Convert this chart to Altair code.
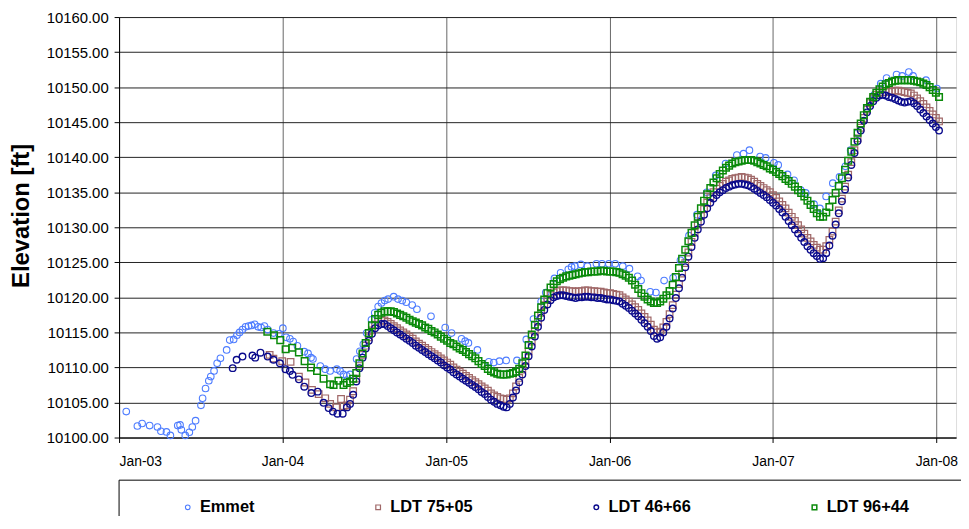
import altair as alt
import pandas as pd

SERIES = ["Emmet", "LDT 75+05", "LDT 46+66", "LDT 96+44"]
COLORS = ["#4d7cff", "#a06868", "#0a0a8c", "#0a8a0a"]
SHAPES = ["circle", "square", "circle", "square"]
YEAR_TICKS = [2003, 2004, 2005, 2006, 2007, 2008]
Y_TICKS = [10100, 10105, 10110, 10115, 10120, 10125, 10130, 10135, 10140, 10145, 10150, 10155, 10160]

# (decimal year, elevation)
EMMET = [
    (2003.044, 10103.7), (2003.112, 10101.65), (2003.141, 10102.0), (2003.187, 10101.7),
    (2003.235, 10101.5), (2003.256, 10100.9), (2003.290, 10100.8), (2003.314, 10100.3),
    (2003.359, 10101.7), (2003.373, 10101.8), (2003.381, 10101.1), (2003.405, 10100.3),
    (2003.430, 10100.75), (2003.448, 10101.5), (2003.468, 10102.4), (2003.501, 10104.6),
    (2003.511, 10105.6), (2003.529, 10107.0), (2003.549, 10108.1), (2003.561, 10108.7),
    (2003.581, 10109.5), (2003.600, 10110.6), (2003.620, 10111.3), (2003.658, 10112.5),
    (2003.677, 10113.9), (2003.701, 10114.0), (2003.721, 10114.6), (2003.737, 10115.0),
    (2003.755, 10115.4), (2003.774, 10115.8), (2003.792, 10115.9), (2003.810, 10116.0),
    (2003.830, 10116.15), (2003.851, 10115.8), (2003.869, 10115.7), (2003.889, 10115.9),
    (2003.909, 10115.4), (2003.945, 10114.9), (2003.978, 10114.8), (2004.002, 10115.6),
    (2004.022, 10114.3), (2004.045, 10114.1), (2004.065, 10113.7), (2004.091, 10113.1),
    (2004.133, 10112.25), (2004.156, 10112.0), (2004.174, 10111.4), (2004.186, 10111.2),
    (2004.231, 10110.2), (2004.261, 10109.75), (2004.291, 10109.5), (2004.332, 10109.75),
    (2004.352, 10109.5), (2004.373, 10109.0), (2004.393, 10108.8), (2004.413, 10109.0),
    (2004.453, 10111.2), (2004.473, 10112.3), (2004.494, 10113.3), (2004.514, 10114.9),
    (2004.544, 10116.8), (2004.564, 10117.8), (2004.585, 10118.7), (2004.605, 10119.2),
    (2004.625, 10119.55), (2004.646, 10119.75), (2004.680, 10120.1), (2004.706, 10119.75),
    (2004.732, 10119.55), (2004.757, 10119.3), (2004.793, 10118.9), (2004.822, 10118.3),
    (2004.908, 10117.3), (2004.995, 10115.7), (2005.034, 10114.9), (2005.095, 10114.1),
    (2005.117, 10113.75), (2005.137, 10113.5), (2005.192, 10112.5), (2005.262, 10110.8),
    (2005.292, 10110.7), (2005.327, 10110.9), (2005.368, 10111.0), (2005.434, 10111.0),
    (2005.491, 10114.0), (2005.535, 10116.9), (2005.582, 10119.4), (2005.610, 10120.7),
    (2005.663, 10122.7), (2005.701, 10123.5), (2005.748, 10124.0), (2005.768, 10124.35),
    (2005.788, 10124.45), (2005.825, 10124.7), (2005.865, 10124.45), (2005.920, 10124.8),
    (2005.954, 10124.8), (2005.996, 10124.8), (2006.035, 10124.8), (2006.081, 10124.45),
    (2006.122, 10124.1), (2006.172, 10123.0), (2006.193, 10122.4), (2006.249, 10120.8),
    (2006.284, 10120.7), (2006.334, 10122.4), (2006.389, 10122.8), (2006.434, 10125.3),
    (2006.486, 10128.8), (2006.535, 10131.8), (2006.595, 10135.0), (2006.650, 10137.4),
    (2006.710, 10139.1), (2006.779, 10140.3), (2006.820, 10140.5), (2006.856, 10141.0),
    (2006.921, 10140.1), (2006.955, 10139.9), (2007.006, 10139.2), (2007.032, 10138.9),
    (2007.089, 10137.55), (2007.129, 10136.7), (2007.170, 10135.3), (2007.200, 10134.9),
    (2007.251, 10133.3), (2007.287, 10132.7), (2007.325, 10134.4), (2007.366, 10136.3),
    (2007.407, 10137.2), (2007.443, 10138.7), (2007.475, 10141.0), (2007.518, 10143.5),
    (2007.573, 10147.0), (2007.619, 10148.9), (2007.659, 10150.5), (2007.695, 10151.3),
    (2007.756, 10151.8), (2007.790, 10151.6), (2007.831, 10152.15), (2007.857, 10151.6),
    (2007.936, 10151.0), (2008.003, 10149.8),
]

LDT7505_EARLY = [
    (2003.921, 10111.8), (2003.944, 10111.25), (2003.998, 10110.9), (2004.049, 10110.8),
    (2004.100, 10108.7), (2004.140, 10107.85), (2004.180, 10106.8), (2004.221, 10106.2),
    (2004.261, 10105.6), (2004.291, 10104.8), (2004.328, 10104.3), (2004.358, 10105.5),
    (2004.374, 10104.5),
]
LDT4666_EARLY = [
    (2003.695, 10109.9), (2003.719, 10111.1), (2003.755, 10111.55), (2003.816, 10111.7),
    (2003.833, 10111.4), (2003.865, 10112.1), (2003.909, 10111.55), (2003.945, 10111.1),
    (2003.984, 10110.6), (2004.018, 10109.75), (2004.045, 10109.5), (2004.061, 10108.95),
    (2004.100, 10108.3), (2004.133, 10107.25), (2004.176, 10106.35), (2004.215, 10106.55),
    (2004.251, 10104.95), (2004.282, 10104.2), (2004.308, 10103.7), (2004.336, 10103.4),
    (2004.368, 10103.4),
]
LDT9644_EARLY = [
    (2003.907, 10115.1), (2003.948, 10114.6), (2003.986, 10113.9), (2004.019, 10112.6),
    (2004.059, 10112.8), (2004.100, 10112.15), (2004.135, 10110.9), (2004.174, 10110.0),
    (2004.211, 10109.5), (2004.251, 10108.4), (2004.291, 10107.6), (2004.312, 10107.5),
    (2004.342, 10108.1), (2004.373, 10107.5),
]

# weekly readings from this date on
WEEKLY_START = "2004-05-24"
LDT7505_WEEKLY = [
    10104.6, 10105.4, 10106.6, 10108.4, 10110.2, 10111.8, 10113.1, 10114.3, 10115.3, 10116.1,
    10116.5, 10116.7, 10116.7, 10116.5, 10116.2, 10115.9, 10115.6, 10115.3, 10115.0, 10114.7,
    10114.4, 10114.1, 10113.7, 10113.4, 10113.1, 10112.8, 10112.5, 10112.2, 10111.9, 10111.6,
    10111.3, 10111.0, 10110.7, 10110.4, 10110.0, 10109.7, 10109.4, 10109.1, 10108.8, 10108.5,
    10108.2, 10107.9, 10107.6, 10107.3, 10107.0, 10106.7, 10106.3, 10106.0, 10105.8, 10105.6,
    10105.5, 10105.4, 10105.6, 10106.3, 10107.3, 10108.5, 10109.7, 10110.9, 10112.3, 10113.7,
    10115.1, 10116.5, 10117.8, 10118.9, 10119.7, 10120.3, 10120.7, 10120.9, 10121.0, 10121.0,
    10121.0, 10120.9, 10120.9, 10120.8, 10120.9, 10120.9, 10121.0, 10121.0, 10120.9, 10120.9,
    10120.8, 10120.8, 10120.7, 10120.6, 10120.6, 10120.5, 10120.4, 10120.3, 10120.0, 10119.7,
    10119.4, 10119.0, 10118.6, 10118.2, 10117.7, 10117.2, 10116.7, 10116.1, 10115.4, 10115.0,
    10115.1, 10115.7, 10116.5, 10117.6, 10118.9, 10120.4, 10121.9, 10123.4, 10124.9, 10126.4,
    10127.9, 10129.2, 10130.5, 10131.6, 10132.6, 10133.5, 10134.3, 10135.0, 10135.5, 10135.9,
    10136.2, 10136.5, 10136.7, 10136.9, 10137.0, 10137.1, 10137.2, 10137.1, 10137.0, 10136.8,
    10136.5, 10136.2, 10135.9, 10135.6, 10135.3, 10135.0, 10134.6, 10134.2, 10133.7, 10133.2,
    10132.7, 10132.1, 10131.5, 10130.9, 10130.3, 10129.7, 10129.1, 10128.5, 10128.0, 10127.5,
    10127.1, 10126.8, 10126.8, 10127.3, 10128.2, 10129.4, 10130.8, 10132.4, 10134.1, 10135.8,
    10137.5, 10139.3, 10141.0, 10142.7, 10144.2, 10145.6, 10146.8, 10147.7, 10148.4, 10148.9,
    10149.2, 10149.3, 10149.3, 10149.3, 10149.4, 10149.5, 10149.5, 10149.4, 10149.3, 10149.2,
    10149.1, 10148.8, 10148.4, 10148.0, 10147.6, 10147.1, 10146.6, 10146.1, 10145.6, 10145.1,
]
LDT4666_WEEKLY = [
    10104.3, 10104.8, 10106.1, 10108.0, 10109.9, 10111.4, 10112.7, 10113.8, 10114.8, 10115.6,
    10116.0, 10116.2, 10116.2, 10115.9, 10115.6, 10115.3, 10115.0, 10114.7, 10114.4, 10114.1,
    10113.8, 10113.5, 10113.1, 10112.8, 10112.5, 10112.2, 10111.9, 10111.6, 10111.3, 10111.0,
    10110.7, 10110.3, 10110.0, 10109.7, 10109.3, 10109.0, 10108.7, 10108.4, 10108.1, 10107.8,
    10107.5, 10107.2, 10106.9, 10106.5, 10106.2, 10105.8, 10105.4, 10105.1, 10104.8, 10104.6,
    10104.4, 10104.3, 10104.8, 10105.7, 10106.7, 10107.9, 10109.0, 10110.2, 10111.6, 10113.0,
    10114.4, 10115.8, 10117.1, 10118.2, 10119.0, 10119.6, 10120.0, 10120.2, 10120.3, 10120.3,
    10120.2, 10120.1, 10120.0, 10119.9, 10120.0, 10120.0, 10120.1, 10120.1, 10120.0, 10120.0,
    10119.9, 10119.9, 10119.8, 10119.7, 10119.7, 10119.6, 10119.5, 10119.4, 10119.1, 10118.8,
    10118.5, 10118.1, 10117.7, 10117.3, 10116.8, 10116.3, 10115.8, 10115.2, 10114.5, 10114.1,
    10114.3, 10115.0, 10115.8, 10117.0, 10118.4, 10119.9, 10121.3, 10122.8, 10124.3, 10125.8,
    10127.2, 10128.5, 10129.7, 10130.8, 10131.8, 10132.7, 10133.5, 10134.1, 10134.6, 10135.0,
    10135.3, 10135.6, 10135.8, 10136.0, 10136.1, 10136.2, 10136.2, 10136.1, 10136.0, 10135.8,
    10135.5, 10135.2, 10134.9, 10134.6, 10134.3, 10133.9, 10133.5, 10133.1, 10132.6, 10132.1,
    10131.5, 10130.9, 10130.3, 10129.7, 10129.1, 10128.5, 10127.9, 10127.3, 10126.8, 10126.3,
    10125.9, 10125.5, 10125.6, 10126.3, 10127.4, 10128.8, 10130.4, 10132.0, 10133.7, 10135.4,
    10137.1, 10138.9, 10140.6, 10142.3, 10143.8, 10145.2, 10146.4, 10147.3, 10148.0, 10148.5,
    10148.8, 10148.9, 10148.8, 10148.6, 10148.5, 10148.3, 10148.1, 10147.9, 10147.8, 10147.9,
    10148.0, 10147.7, 10147.3, 10146.8, 10146.3, 10145.8, 10145.3, 10144.8, 10144.3, 10143.8,
]
LDT9644_WEEKLY = [
    10107.8, 10108.0, 10108.4, 10109.2, 10110.6, 10112.0, 10113.5, 10114.9, 10116.0, 10116.9,
    10117.5, 10117.8, 10118.0, 10118.0, 10118.0, 10117.9, 10117.7, 10117.5, 10117.3, 10117.1,
    10116.8, 10116.6, 10116.4, 10116.2, 10116.0, 10115.7, 10115.5, 10115.2, 10115.0, 10114.7,
    10114.4, 10114.1, 10113.8, 10113.5, 10113.3, 10113.0, 10112.7, 10112.5, 10112.2, 10111.9,
    10111.6, 10111.3, 10110.9, 10110.5, 10110.2, 10109.8, 10109.5, 10109.3, 10109.1, 10109.0,
    10109.0, 10109.0, 10109.1, 10109.2, 10109.4, 10109.8, 10110.6, 10111.7, 10113.2, 10114.7,
    10116.1, 10117.4, 10118.6, 10119.7, 10120.6, 10121.4, 10121.9, 10122.3, 10122.6, 10122.8,
    10123.0, 10123.1, 10123.2, 10123.3, 10123.4, 10123.5, 10123.6, 10123.6, 10123.7, 10123.7,
    10123.7, 10123.8, 10123.8, 10123.7, 10123.7, 10123.7, 10123.6, 10123.5, 10123.3, 10123.1,
    10122.8, 10122.4, 10121.8, 10121.2, 10120.6, 10120.1, 10119.7, 10119.4, 10119.2, 10119.2,
    10119.4, 10119.8, 10120.3, 10120.9, 10121.8, 10122.9, 10124.2, 10125.5, 10126.8, 10128.0,
    10129.2, 10130.3, 10131.5, 10132.7, 10133.8, 10134.7, 10135.6, 10136.4, 10137.0, 10137.6,
    10138.1, 10138.5, 10138.8, 10139.1, 10139.3, 10139.4, 10139.5, 10139.6, 10139.6, 10139.6,
    10139.5, 10139.3, 10139.1, 10138.9, 10138.7, 10138.4, 10138.2, 10137.9, 10137.6, 10137.3,
    10136.9, 10136.6, 10136.2, 10135.8, 10135.3, 10134.9, 10134.4, 10133.8, 10133.2, 10132.6,
    10132.0, 10131.5, 10131.5, 10132.1, 10132.9, 10133.9, 10134.9, 10135.9, 10137.0, 10138.2,
    10139.5, 10140.8, 10142.2, 10143.5, 10144.8, 10146.0, 10147.0, 10147.9, 10148.6, 10149.2,
    10149.7, 10150.1, 10150.4, 10150.6, 10150.8, 10150.9, 10151.0, 10151.0, 10151.0, 10151.0,
    10151.0, 10150.9, 10150.8, 10150.7, 10150.5, 10150.3, 10150.0, 10149.6, 10149.2, 10148.6,
]

FONT = "Liberation Sans"


def dec_date(t):
    d = pd.Timestamp("2003-01-01") + pd.to_timedelta((t - 2003.0) * 365.25, unit="D")
    return d.strftime("%Y-%m-%dT%H:%M:%S")


rows = []
for t, v in EMMET:
    rows.append({"date": dec_date(t), "value": v, "series": "Emmet"})
for name, early, weekly in [
    ("LDT 75+05", LDT7505_EARLY, LDT7505_WEEKLY),
    ("LDT 46+66", LDT4666_EARLY, LDT4666_WEEKLY),
    ("LDT 96+44", LDT9644_EARLY, LDT9644_WEEKLY),
]:
    for t, v in early:
        rows.append({"date": dec_date(t), "value": v, "series": name})
    dates = pd.date_range(WEEKLY_START, periods=len(weekly), freq="7D")
    for d, v in zip(dates, weekly):
        rows.append({"date": d.strftime("%Y-%m-%dT%H:%M:%S"), "value": v, "series": name})

df = pd.DataFrame(rows)

legend = alt.Legend(
    title=None, orient="none", direction="horizontal", legendX=61, legendY=486,
    labelFont=FONT, labelFontSize=16.5, labelFontWeight="bold", labelColor="black",
    symbolSize=22, symbolStrokeWidth=1.1, labelOffset=4, columnPadding=116,
)

x_axis = alt.Axis(
    values=[alt.DateTime(year=y, month=1, date=1) for y in YEAR_TICKS],
    format="%b-%y", title=None, grid=True, gridColor="#666", gridWidth=1,
    labelFont=FONT, labelFontSize=14, labelColor="black", labelPadding=12,
    tickSize=5, tickColor="black", domainColor="black",
)
y_axis = alt.Axis(
    values=Y_TICKS, format=".2f", title="Elevation [ft]", grid=True,
    gridColor="#222", gridWidth=1,
    labelFont=FONT, labelFontSize=15, labelColor="black", labelPadding=6,
    tickSize=5, tickColor="black", domainColor="black",
    titleFont=FONT, titleFontSize=24, titleFontWeight="bold", titleColor="black",
    titleX=-98, titleY=200, titleAngle=270, titleAlign="center", titleBaseline="middle",
)

points = alt.Chart(df).mark_point(filled=False, opacity=1, size=44).encode(
    x=alt.X("date:T",
            scale=alt.Scale(domain=[alt.DateTime(year=2003, month=1, date=1),
                                    alt.DateTime(year=2008, month=2, date=14)]),
            axis=x_axis),
    y=alt.Y("value:Q", scale=alt.Scale(domain=[10100, 10160], nice=False, zero=False),
            axis=y_axis),
    color=alt.Color("series:N", scale=alt.Scale(domain=SERIES, range=COLORS), legend=legend),
    shape=alt.Shape("series:N", scale=alt.Scale(domain=SERIES, range=SHAPES), legend=legend),
    strokeWidth=alt.StrokeWidth("series:N", scale=alt.Scale(domain=SERIES, range=[1.1, 1.5, 1.5, 1.5]),
                                legend=None),
)

frame = alt.Chart(pd.DataFrame({"k": [0]})).mark_rect(
    fill="white", fillOpacity=0, stroke="black", strokeWidth=1, clip=False
).encode(
    x=alt.value(0), x2=alt.value(870), y=alt.value(467), y2=alt.value(530)
)

chart = alt.layer(points, frame).properties(
    width=844, height=424,
    autosize=alt.AutoSizeParams(type="none"),
    padding={"left": 112, "top": 7, "right": 5, "bottom": 77},
).configure_view(stroke="black", strokeWidth=1).configure(background="white")

chart.save("out.html", embed_options={"renderer": "svg", "actions": False})
